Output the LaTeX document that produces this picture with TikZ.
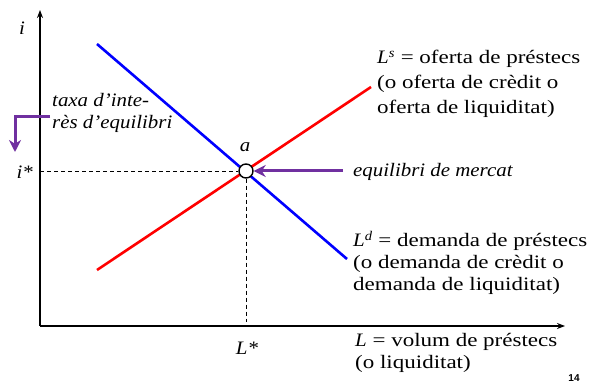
\documentclass[tikz,border=0pt]{standalone}
\usepackage{fontspec}
\setmainfont{Liberation Serif}[UprightFeatures={FakeStretch=1.21}, ItalicFeatures={FakeStretch=1.1}]
\setsansfont{Liberation Sans}
\usetikzlibrary{arrows.meta, positioning}
\definecolor{supplyred}{HTML}{FF0000}
\definecolor{demandblue}{HTML}{0000FF}
\definecolor{notepurple}{HTML}{7030A0}

\begin{document}
\begin{tikzpicture}[x=1pt, y=-1pt,
      every node/.style={font=\fontsize{19}{22}\selectfont},
      axis/.style={-{Stealth[length=8pt, width=6pt]}, line width=1.4pt},
      curve/.style={line width=2.6pt},
      guide/.style={dash pattern=on 4pt off 3pt, line width=0.9pt},
      callout/.style={-{Stealth[length=12pt, width=12pt]}, line width=3pt, draw=notepurple},
      lbl/.style={align=left, anchor=north west, inner sep=0pt}
    ]
    \useasboundingbox (0,0) rectangle (598,385);
    % axes
    \coordinate (orig) at (40,326);
    \coordinate (ytop) at (40,10);
    \coordinate (xend) at (565,326);
    \draw[axis] (orig) -- (ytop);
    \draw[axis] (orig) -- (xend);
    \node (ilab) at (22,28) {\textit{i}};
    % supply and demand
    \coordinate (s1) at (97,270);
    \coordinate (s2) at (371,87);
    \coordinate (d1) at (97,44);
    \coordinate (d2) at (347,259);
    \draw[curve, supplyred] (s1) -- (s2);
    \draw[curve, demandblue] (d1) -- (d2);
    % equilibrium
    \node[circle, draw, fill=white, line width=1.4pt, minimum size=14pt, inner sep=0pt] (eq) at (246,171) {};
    \coordinate (istar) at (40,171);
    \coordinate (lstar) at (246,322);
    \draw[guide] (istar) -- (eq.west);
    \draw[guide] (eq.south) -- (lstar);
    \node (alab) at (245,147) {\textit{a}};
    \node[anchor=east, inner sep=0pt] (ilstar) at (33,172) {\textit{i*}};
    \node (Llstar) at (247,348) {\textit{L*}};
    % labels
    \node[lbl, font=\fontsize{19}{25}\selectfont] (supplylab) at (377,50)
      {\textit{L}\textsuperscript{\textit{s}} = oferta de préstecs\\(o oferta de crèdit o\\oferta de liquiditat)};
    \node[lbl] (demandlab) at (353,231)
      {\textit{L}\textsuperscript{\textit{d}} = demanda de préstecs\\(o demanda de crèdit o\\demanda de liquiditat)};
    \node[lbl] (volumlab) at (355,333) {\textit{L} = volum de préstecs\\(o liquiditat)};
    % notes
    \node[anchor=west, inner sep=0pt] (mktlab) at (353,172) {\textit{equilibri de mercat}};
    \coordinate (mktstart) at (343,171);
    \draw[callout] (mktstart) -- (eq.east);
    \node[lbl] (ratelab) at (52,93) {\textit{taxa d’inte-}\\\textit{rès d’equilibri}};
    \coordinate (ratestart) at (50,117);
    \coordinate (rateend) at (15,152);
    \draw[callout] (ratestart) -| (rateend);
    \node[font=\sffamily\bfseries\fontsize{10}{12}\selectfont] (pagenum) at (574,378) {14};
  \end{tikzpicture}
\end{document}
